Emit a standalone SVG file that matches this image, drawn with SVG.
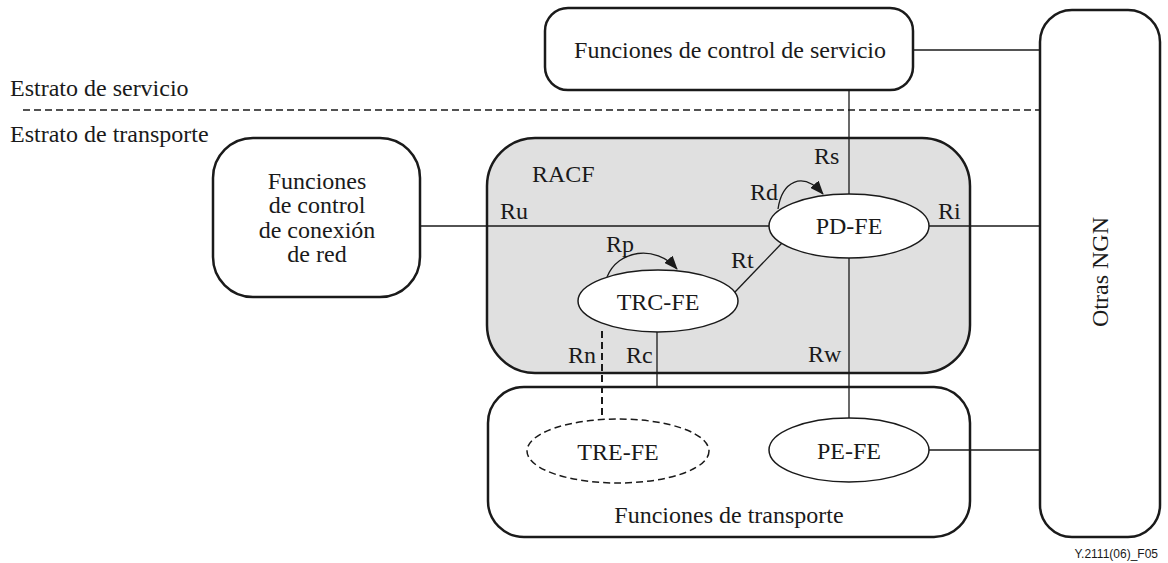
<svg xmlns="http://www.w3.org/2000/svg" width="1168" height="563" viewBox="0 0 1168 563">
<defs>
<marker id="arr" viewBox="0 0 14 11" refX="13" refY="5.5" markerWidth="14" markerHeight="11" markerUnits="userSpaceOnUse" orient="auto">
<path d="M0,0 L14,5.5 L0,11 z" fill="#1a1a1a"/>
</marker>
<style>
text{font-family:"Liberation Serif","Times New Roman",serif;font-size:24px;fill:#1a1a1a}
.box{fill:#fff;stroke:#1a1a1a;stroke-width:2.5}
.racf{fill:#e0e0e0;stroke:#1a1a1a;stroke-width:2.5}
.ell{fill:#fff;stroke:#1a1a1a;stroke-width:1.5}
.dell{fill:#fff;stroke:#1a1a1a;stroke-width:1.5;stroke-dasharray:7 4}
.ln{stroke:#1a1a1a;stroke-width:1.3;fill:none}
.dl{stroke:#1a1a1a;stroke-width:1.3;fill:none;stroke-dasharray:7 4}
.dl2{stroke:#1a1a1a;stroke-width:2;fill:none;stroke-dasharray:7 4}
.m{text-anchor:middle}
</style>
</defs>
<rect width="1168" height="563" fill="#fff"/>
<g id="strata">
<text x="10" y="96">Estrato de servicio</text>
<text x="10" y="142">Estrato de transporte</text>
<line class="dl" x1="23" y1="110" x2="1040" y2="110"/>
</g>
<g id="racf">
<rect class="racf" x="487" y="138" width="483" height="235" rx="48" ry="48"/>
<text x="532" y="182">RACF</text>
</g>
<g id="transporte">
<rect class="box" x="488" y="387" width="482" height="150" rx="36" ry="36"/>
<text class="m" x="729" y="523">Funciones de transporte</text>
</g>
<g id="servicio">
<rect class="box" x="545" y="8" width="368" height="82" rx="23" ry="23"/>
<text class="m" x="730" y="58">Funciones de control de servicio</text>
</g>
<g id="conexion">
<rect class="box" x="213" y="138" width="207" height="159" rx="40" ry="40"/>
<text class="m" x="317" y="189">Funciones</text>
<text class="m" x="317" y="213">de control</text>
<text class="m" x="317" y="238">de conexión</text>
<text class="m" x="317" y="262">de red</text>
</g>
<g id="otras">
<rect class="box" x="1040" y="10" width="120" height="527" rx="32" ry="32"/>
<text class="m" transform="translate(1108,272) rotate(-90)" x="0" y="0">Otras NGN</text>
</g>
<g id="connectors">
<line class="ln" x1="913" y1="50" x2="1040" y2="50"/>
<line class="ln" x1="849" y1="90" x2="849" y2="194"/>
<line class="ln" x1="420" y1="226" x2="769" y2="226"/>
<line class="ln" x1="929" y1="226" x2="1040" y2="226"/>
<line class="ln" x1="735" y1="292" x2="782" y2="243"/>
<line class="ln" x1="849" y1="258" x2="849" y2="418"/>
<line class="ln" x1="657" y1="332" x2="657" y2="387"/>
<line class="dl2" x1="602" y1="331" x2="602" y2="420"/>
<line class="ln" x1="929" y1="450" x2="1040" y2="450"/>
<path class="ln" d="M607,277 C618,250 655,244 677,269" marker-end="url(#arr)"/>
<path class="ln" d="M778,209 C782,182 802,170 823,194" marker-end="url(#arr)"/>
</g>
<g id="pdfe">
<ellipse class="ell" cx="849" cy="226" rx="80" ry="32"/>
<text class="m" x="849" y="234">PD-FE</text>
</g>
<g id="trcfe">
<ellipse class="ell" cx="658" cy="301" rx="80" ry="31"/>
<text class="m" x="658" y="310">TRC-FE</text>
</g>
<g id="trefe">
<ellipse class="dell" cx="618" cy="451" rx="91" ry="32"/>
<text class="m" x="618" y="460">TRE-FE</text>
</g>
<g id="pefe">
<ellipse class="ell" cx="849" cy="450" rx="80" ry="32"/>
<text class="m" x="849" y="459">PE-FE</text>
</g>
<g id="labels">
<text x="500" y="219">Ru</text>
<text x="606" y="252">Rp</text>
<text x="731" y="268">Rt</text>
<text x="568" y="363">Rn</text>
<text x="626" y="363">Rc</text>
<text x="814" y="164">Rs</text>
<text x="750" y="200">Rd</text>
<text x="938" y="219">Ri</text>
<text x="808" y="362">Rw</text>
</g>
<text x="1158" y="558" style="font-family:'Liberation Sans',Arial,sans-serif;font-size:12px;text-anchor:end">Y.2111(06)_F05</text>
</svg>
